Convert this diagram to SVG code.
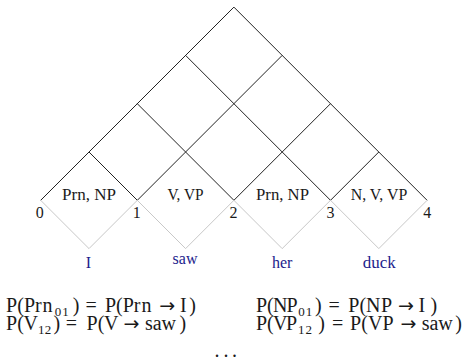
<svg xmlns="http://www.w3.org/2000/svg" width="462" height="363" viewBox="0 0 462 363">
  <style>
    .grid { stroke: #222; stroke-width: 1; fill: none; }
    .leaf { stroke: #c8c8c8; stroke-width: 1; fill: none; }
    text { font-family: "Liberation Serif", "Times New Roman", serif; fill: #1a1a1a; }
    .lbl { font-size: 16px; text-anchor: middle; }
    .pos { font-size: 16px; text-anchor: middle; }
    .word { font-size: 16px; text-anchor: middle; fill: #1c1c8c; }
    .eq { font-size: 20px; }
    .sub { font-size: 13px; }
    .arr { font-family: "DejaVu Sans", sans-serif; font-size: 19px; }
  </style>
  <rect width="462" height="363" fill="#ffffff"/>

  <!-- chart lines: outer triangle and the diagonals rising from each position -->
  <g id="connectors">
    <g class="grid">
      <line x1="40.7" y1="200.3" x2="233.9" y2="7.1"/>
      <line x1="427.1" y1="200.3" x2="233.9" y2="7.1"/>
      <line x1="137.3" y1="200.3" x2="89" y2="152"/>
      <line x1="137.3" y1="200.3" x2="282.2" y2="55.4"/>
      <line x1="233.9" y1="200.3" x2="137.3" y2="103.7"/>
      <line x1="233.9" y1="200.3" x2="330.5" y2="103.7"/>
      <line x1="330.5" y1="200.3" x2="185.6" y2="55.4"/>
      <line x1="330.5" y1="200.3" x2="378.8" y2="152"/>
    </g>
    <!-- lower halves of the word cells -->
    <polyline class="leaf" points="40.7,200.3 89,248.6 137.3,200.3 185.6,248.6 233.9,200.3 282.2,248.6 330.5,200.3 378.8,248.6 427.1,200.3"/>
  </g>

  <!-- span cells with their categories -->
  <g id="cell-01"><text class="lbl" x="89" y="200" textLength="54" lengthAdjust="spacingAndGlyphs">Prn, NP</text></g>
  <g id="cell-12"><text class="lbl" x="185.5" y="200" textLength="36" lengthAdjust="spacingAndGlyphs">V, VP</text></g>
  <g id="cell-23"><text class="lbl" x="282.5" y="200" textLength="53" lengthAdjust="spacingAndGlyphs">Prn, NP</text></g>
  <g id="cell-34"><text class="lbl" x="379" y="200" textLength="56.5" lengthAdjust="spacingAndGlyphs">N, V, VP</text></g>

  <!-- string positions -->
  <g id="positions">
    <text class="pos" x="39.8" y="218.3">0</text>
    <text class="pos" x="136.7" y="218.3">1</text>
    <text class="pos" x="233.4" y="218.3">2</text>
    <text class="pos" x="330.5" y="218.3">3</text>
    <text class="pos" x="427.3" y="218.3">4</text>
  </g>

  <!-- input words -->
  <g id="word-I"><text class="word" x="88.5" y="268.3">I</text></g>
  <g id="word-saw"><text class="word" x="185" y="263.8">saw</text></g>
  <g id="word-her"><text class="word" x="282.2" y="268.3">her</text></g>
  <g id="word-duck"><text class="word" x="379.2" y="268.3" textLength="33" lengthAdjust="spacingAndGlyphs">duck</text></g>

  <!-- lexical probabilities, one text per equation, glyphs placed by hand -->
  <g id="equations" class="eq">
    <text y="311.5"><tspan x="6 17.3 24 35 42.5">P(Prn</tspan><tspan class="sub" x="54.8 62.3" y="315.5">01</tspan><tspan x="72.7" y="311.5">)</tspan><tspan x="85.5">=</tspan><tspan x="105 116 122.7 133.7 141.5">P(Prn</tspan><tspan class="arr" x="159.3">→</tspan><tspan x="180 189.3">I)</tspan></text>

    <text y="329.5"><tspan x="6 17.3 23.5">P(V</tspan><tspan class="sub" x="38 44.8" y="333.5">12</tspan><tspan x="53.5" y="329.5">)</tspan><tspan x="65.8">=</tspan><tspan x="86.5 97.8 104">P(V</tspan><tspan class="arr" x="123.5">→</tspan><tspan x="145 152.8 161.4">saw</tspan><tspan x="179.5">)</tspan></text>

    <text y="311.5"><tspan x="256 267 273 286.5">P(NP</tspan><tspan class="sub" x="298.2 305.7" y="315.5">01</tspan><tspan x="315" y="311.5">)</tspan><tspan x="328.6">=</tspan><tspan x="348.3 359.5 366 381">P(NP</tspan><tspan class="arr" x="398">→</tspan><tspan x="418.5 430.5">I)</tspan></text>

    <text y="329.5"><tspan x="256 267 273 286">P(VP</tspan><tspan class="sub" x="298 305.5" y="333.5">12</tspan><tspan x="318.3" y="329.5">)</tspan><tspan x="332">=</tspan><tspan x="350 361.2 368 382.5">P(VP</tspan><tspan class="arr" x="400.5">→</tspan><tspan x="421.7 429.5 438.3">saw</tspan><tspan x="455.3">)</tspan></text>

    <text x="214.4 223.4 232" y="357">...</text>
  </g>
</svg>
